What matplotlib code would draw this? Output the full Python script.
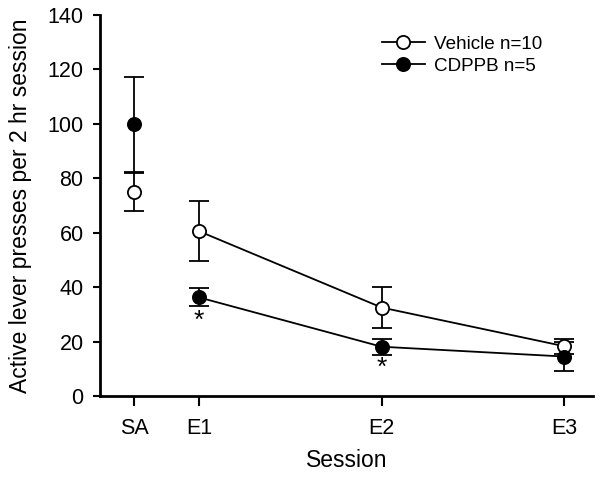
import matplotlib
matplotlib.use("Agg")
import matplotlib.pyplot as plt

plt.rcParams['font.family'] = ['Liberation Sans', 'DejaVu Sans']

# data
sessions = ['SA', 'E1', 'E2', 'E3']
session_pos = [0, 1, 3.8, 6.6]

vehicle_mean = [75, 60.5, 32.5, 18.3]
vehicle_err = [7, 11, 7.5, 2.7]
cdppb_mean = [99.8, 36.2, 18.1, 14.5]
cdppb_err = [17.5, 3.3, 3.0, 5.2]

star_sessions = [1, 2]  # indices with significance marker
star_y = [27.5, 10.5]

fig = plt.figure(figsize=(6, 4.8), dpi=100)
ax = fig.add_axes([0.167, 0.175, 0.822, 0.794])

lw = 1.3
for mean, err, face, lab in [(vehicle_mean, vehicle_err, 'white', 'Vehicle n=10'),
                             (cdppb_mean, cdppb_err, 'black', 'CDPPB n=5')]:
    ax.errorbar(session_pos, mean, yerr=err, fmt='none', ecolor='black',
                elinewidth=lw, capsize=7, capthick=lw, zorder=2)
    ax.plot(session_pos[1:], mean[1:], color='black', lw=lw, zorder=3)
    ax.plot(session_pos, mean, 'o', ms=9.5, mfc=face, mec='black', mew=1.3,
            ls='none', zorder=4)
    ax.plot([], [], '-o', color='black', lw=lw, ms=9.5, mfc=face, mec='black',
            mew=1.3, label=lab)

for i, y in zip(star_sessions, star_y):
    ax.text(session_pos[i], y, '*', ha='center', va='center', fontsize=19)

ax.set_xlim(-0.52, 7.05)
ax.set_ylim(0, 140)
ax.set_yticks(range(0, 141, 20))
ax.set_xticks(session_pos)
ax.set_xticklabels(sessions)
ax.tick_params(direction='out', length=5, width=1.5, labelsize=15.5)
ax.tick_params(axis='x', length=7, pad=9)
ax.tick_params(axis='y', pad=7)
for s in ['top', 'right']:
    ax.spines[s].set_visible(False)
for s in ['left', 'bottom']:
    ax.spines[s].set_linewidth(2)

ax.set_xlabel('Session', fontsize=16.5, labelpad=7)
ax.set_ylabel('Active lever presses per 2 hr session', fontsize=16.5, labelpad=11)

ax.legend(loc='upper right', bbox_to_anchor=(0.93, 0.99), frameon=False, fontsize=13.6,
          handlelength=2.3, handletextpad=0.45, labelspacing=0.25)

fig.savefig('out.png', dpi=100)
